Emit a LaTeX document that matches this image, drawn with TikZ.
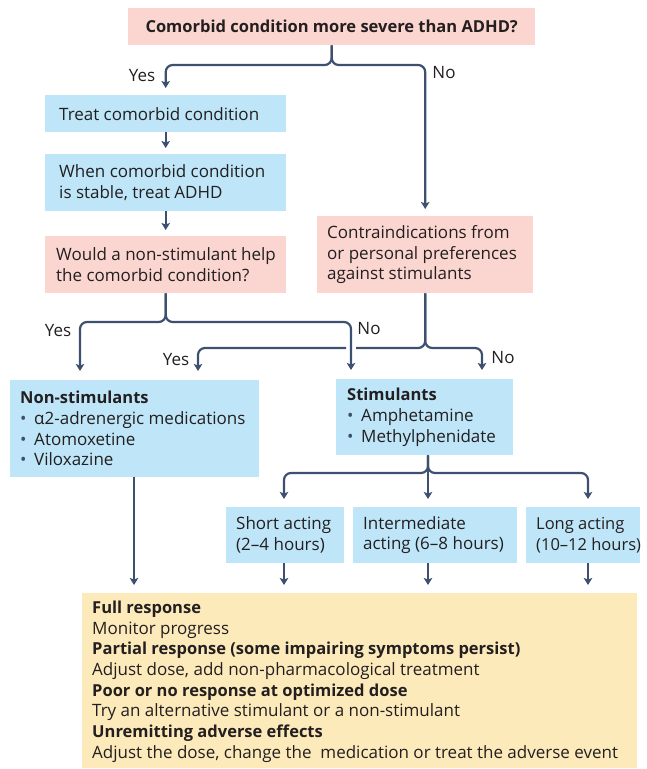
\documentclass[tikz,border=0pt]{standalone}
\usepackage{fontspec}
\setmainfont{Open Sans}
\usetikzlibrary{arrows.meta,calc}
\definecolor{pinkbox}{HTML}{FBD5CF}
\definecolor{bluebox}{HTML}{BEE6F8}
\definecolor{yellowbox}{HTML}{FDEABB}
\definecolor{arrowcol}{HTML}{3D5070}
\definecolor{txt}{HTML}{231F20}
\newcommand{\hd}[1]{{\fontsize{16.5}{20.7}\selectfont\bfseries #1}}
\newcommand{\bul}{{\color{arrowcol}\textbullet}\hspace{0.45em}}
\begin{document}
\begin{tikzpicture}[x=1pt,y=-1pt,
  fillbox/.style={anchor=north west, fill=#1, draw=none, inner sep=0pt},
  txtnode/.style={anchor=west, inner sep=0pt, align=left, text=txt, font=\fontsize{17}{20.7}\selectfont},
  conn/.style={draw=arrowcol, line width=2.2pt, rounded corners=7pt, -{Stealth[length=7pt,width=8.5pt,inset=1.5pt]}},
  plain/.style={draw=arrowcol, line width=2.2pt, rounded corners=7pt},
  lbl/.style={inner sep=0pt, text=txt, font=\fontsize{17}{20.7}\selectfont}
]
\useasboundingbox (0,0) rectangle (646,769);

% boxes
\node[fillbox=pinkbox, minimum width=407pt, minimum height=37pt] (q1) at (128,8) {};
\node[txtnode, anchor=center] (q1t) at (q1.center) {\hd{Comorbid condition more severe than ADHD?}};

\node[fillbox=bluebox, minimum width=241pt, minimum height=37pt] (treat) at (45,95) {};
\node[txtnode] (treatt) at ([xshift=14pt]treat.west) {Treat comorbid condition};

\node[fillbox=bluebox, minimum width=241pt, minimum height=57pt] (stable) at (45,154) {};
\node[txtnode] (stablet) at ([xshift=14pt]stable.west) {When comorbid condition\\is stable, treat ADHD};

\node[fillbox=pinkbox, minimum width=241pt, minimum height=57pt] (would) at (45,236) {};
\node[txtnode] (wouldt) at ([xshift=11pt]would.west) {Would a non-stimulant help\\the comorbid condition?};

\node[fillbox=pinkbox, minimum width=216pt, minimum height=77pt] (contra) at (317,216) {};
\node[txtnode] (contrat) at ([xshift=10pt]contra.west) {Contraindications from\\or personal preferences\\against stimulants};

\node[fillbox=bluebox, minimum width=249pt, minimum height=97pt] (nonstim) at (10,380) {};
\node[txtnode] (nonstimt) at ([xshift=10pt]nonstim.west) {\hd{Non-stimulants}\\\bul α2-adrenergic medications\\\bul Atomoxetine\\\bul Viloxazine};

\node[fillbox=bluebox, minimum width=177pt, minimum height=76pt] (stim) at (336,379) {};
\node[txtnode] (stimt) at ([xshift=11pt]stim.west) {\hd{Stimulants}\\\bul Amphetamine\\\bul Methylphenidate};

\node[fillbox=bluebox, minimum width=118pt, minimum height=56pt] (short) at (226,507) {};
\node[txtnode] (shortt) at ([xshift=10pt]short.west) {Short acting\\(2–4 hours)};

\node[fillbox=bluebox, minimum width=164pt, minimum height=56pt] (inter) at (353,507) {};
\node[txtnode] (intert) at ([xshift=10pt]inter.west) {Intermediate\\acting (6–8 hours)};

\node[fillbox=bluebox, minimum width=114pt, minimum height=56pt] (long) at (526,507) {};
\node[txtnode, font=\fontsize{16.5}{20.7}\selectfont] (longt) at ([xshift=10pt]long.west) {Long acting\\(10–12 hours)};

\node[fillbox=yellowbox, minimum width=555pt, minimum height=175pt] (resp) at (82,593) {};
\node[txtnode] (respt) at ([xshift=10pt,yshift=-1pt]resp.west) {\hd{Full response}\\Monitor progress\\\hd{Partial response (some impairing symptoms persist)}\\Adjust dose, add non-pharmacological treatment\\\hd{Poor or no response at optimized dose}\\Try an alternative stimulant or a non-stimulant\\\hd{Unremitting adverse effects}\\Adjust the dose, change the \ medication or treat the adverse event};

% helper coordinates
\coordinate (h1) at (0,65);
\coordinate (h2) at (0,322);
\coordinate (h3) at (0,348);
\coordinate (h4) at (0,473);
\coordinate (a1) at (80,380);
\coordinate (a2) at (351,379);
\coordinate (a3) at (198,380);
\coordinate (a4) at (482,379);
\coordinate (g1) at (356,348);
\coordinate (g2) at (346,348);
\coordinate (b1) at (284,507);
\coordinate (b2) at (428,507);
\coordinate (b3) at (588,507);
\coordinate (c1) at (284,563);
\coordinate (c2) at (428,563);
\coordinate (c3) at (588,563);
\coordinate (n1) at (134,477);

% connectors
\draw[conn, shorten >=7pt] (q1.south) -- (q1.south |- h1) -- (treat.north |- h1) -- (treat.north);
\draw[conn, shorten >=7pt] (q1.south) -- (q1.south |- h1) -- (contra.north |- h1) -- (contra.north);
\draw[conn, shorten >=6pt] (treat.south) -- (stable.north);
\draw[conn, shorten >=6pt] (stable.south) -- (would.north);

\draw[conn, shorten >=9pt] (contra.south) -- (contra.south |- h3) -- (a4 |- h3) -- (a4);
\draw[plain] (contra.south) -- (contra.south |- h3) -- (g1);
\draw[conn, shorten >=9pt] (g2) -- (a3 |- h3) -- (a3);

\draw[conn, shorten >=9pt] (would.south) -- (would.south |- h2) -- (a1 |- h2) -- (a1);
\draw[conn, shorten >=9pt] (would.south) -- (would.south |- h2) -- (a2 |- h2) -- (a2);

\draw[conn, shorten >=8pt] (b2 |- stim.south) -- (b2);
\draw[conn, shorten >=8pt] (b2 |- stim.south) -- (b2 |- h4) -- (b1 |- h4) -- (b1);
\draw[conn, shorten >=8pt] (b2 |- stim.south) -- (b2 |- h4) -- (b3 |- h4) -- (b3);

\draw[conn, shorten >=8pt] (n1) -- (n1 |- resp.north);
\draw[conn, shorten >=8pt] (c1) -- (c1 |- resp.north);
\draw[conn, shorten >=8pt] (c2) -- (c2 |- resp.north);
\draw[conn, shorten >=8pt] (c3) -- (c3 |- resp.north);

% labels
\node[lbl] (l1) at (142,76) {Yes};
\node[lbl] (l2) at (444,73) {No};
\node[lbl] (l3) at (58,331) {Yes};
\node[lbl] (l4) at (369,329) {No};
\node[lbl] (l5) at (176,360) {Yes};
\node[lbl] (l6) at (503,358) {No};
\end{tikzpicture}
\end{document}
